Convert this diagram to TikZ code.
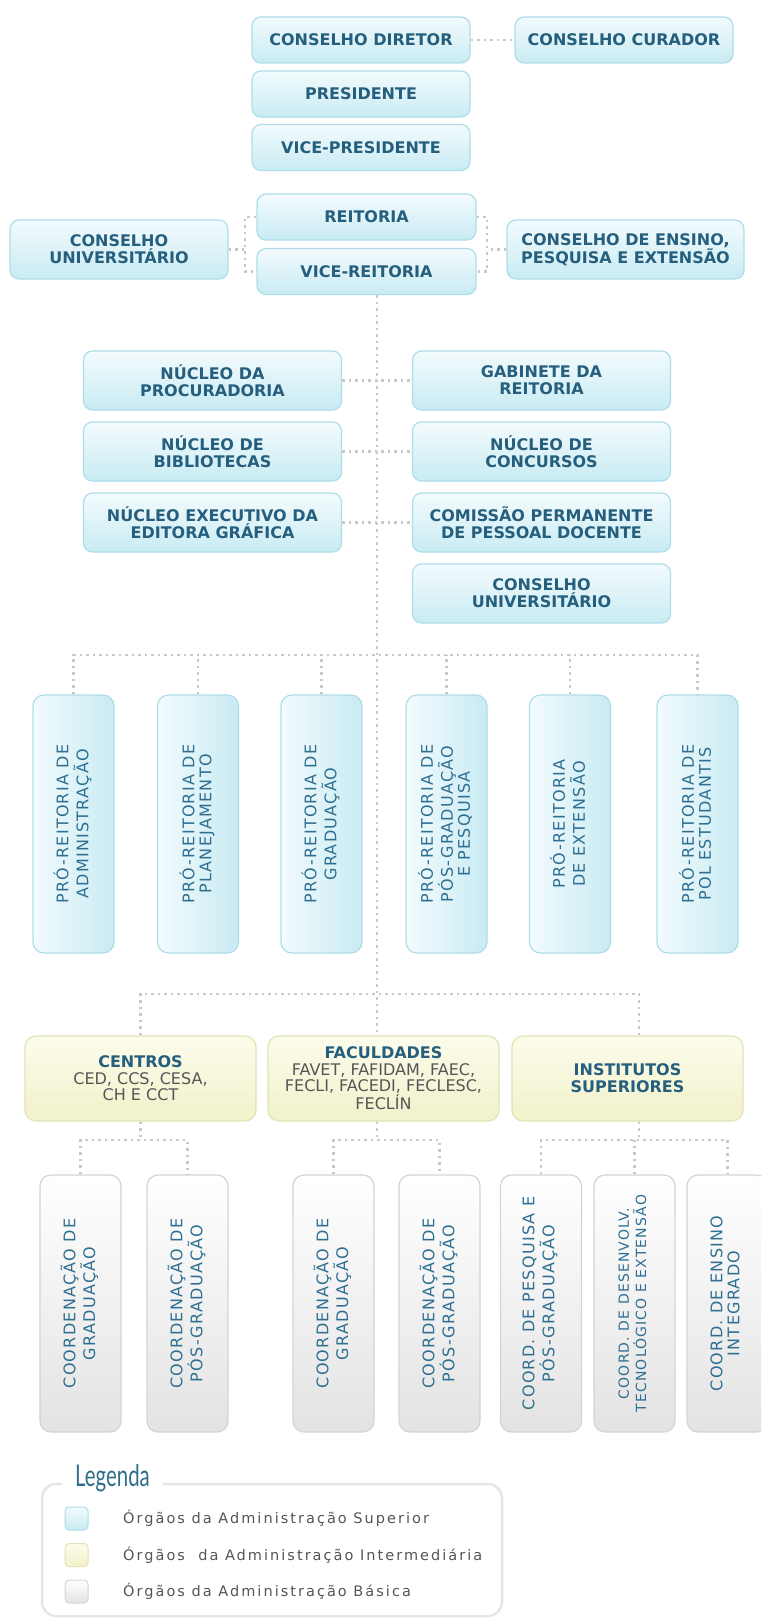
\documentclass[tikz,border=0pt]{standalone}
\usepackage{fontspec}
\setmainfont{DejaVu Sans}
\newfontfamily\vfont{DejaVu Sans}[LetterSpace=8]
\newfontfamily\legtxtfont{DejaVu Sans}[LetterSpace=14]
\newfontfamily\legtitlefont{Lato}

\definecolor{suptop}{HTML}{F3FBFD}
\definecolor{supbot}{HTML}{C8EBF3}
\definecolor{supline}{HTML}{AEDDE9}
\definecolor{midtop}{HTML}{FCFCEC}
\definecolor{midbot}{HTML}{F1F1CB}
\definecolor{midline}{HTML}{E3E3B4}
\definecolor{bastop}{HTML}{FFFFFF}
\definecolor{basbot}{HTML}{E3E3E3}
\definecolor{basline}{HTML}{D4D4D4}
\definecolor{orgtxt}{HTML}{265F7E}
\definecolor{vtxt}{HTML}{2E6F91}
\definecolor{graytxt}{HTML}{555555}
\definecolor{linkgray}{HTML}{C8C8C8}
\definecolor{legline}{HTML}{E6E6E6}
\definecolor{legtitle}{HTML}{2F6E8B}

\newcommand{\vlabel}[1]{\rotatebox{90}{\begin{tabular}{@{}c@{}}#1\end{tabular}}}

\tikzset{
  link/.style={draw=linkgray, line width=2.5pt, dash pattern=on 2.5pt off 4pt},
  hbox/.style={rounded corners=9pt, draw=supline, line width=1.2pt,
    top color=suptop, bottom color=supbot, text=orgtxt, align=center,
    inner sep=0pt, font=\bfseries\fontsize{16}{17}\selectfont},
  sbox/.style={hbox, minimum width=218pt, minimum height=46pt},
  tbox/.style={hbox, minimum height=59pt},
  probox/.style={rounded corners=11pt, draw=supline, line width=1.2pt,
    left color=suptop, right color=supbot, text=vtxt, inner sep=0pt,
    minimum width=81pt, minimum height=258pt, font=\vfont\fontsize{16}{17}\selectfont},
  midbox/.style={rounded corners=11pt, draw=midline, line width=1.2pt,
    top color=midtop, bottom color=midbot, text=graytxt, align=center,
    inner sep=0pt, minimum width=231pt, minimum height=85pt,
    font=\fontsize{16}{16.5}\selectfont},
  basbox/.style={rounded corners=11pt, draw=basline, line width=1.2pt,
    top color=bastop, bottom color=basbot, text=vtxt, inner sep=0pt,
    minimum width=81pt, minimum height=257pt, font=\vfont\fontsize{16}{17}\selectfont},
  swatch/.style={rounded corners=4pt, line width=1pt, minimum size=23pt, inner sep=0pt},
  legtext/.style={anchor=west, text=graytxt, inner sep=0pt,
    font=\legtxtfont\fontsize{14.5}{14.5}\selectfont}
}

\begin{document}
\begin{tikzpicture}[x=1pt, y=-1pt]
\useasboundingbox (0,0) rectangle (761,1619);
\clip (0,0) rectangle (761,1619);

% administracao superior
\node[sbox] (cdir) at (361,40) {CONSELHO DIRETOR};
\node[sbox] (ccur) at (624,40) {CONSELHO CURADOR};
\node[sbox] (pres) at (361,94) {PRESIDENTE};
\node[sbox] (vpres) at (361,147.5) {VICE-PRESIDENTE};
\node[sbox, minimum width=219pt] (reit) at (366.5,217) {REITORIA};
\node[sbox, minimum width=219pt] (vreit) at (366.5,271.5) {VICE-REITORIA};
\node[tbox, minimum width=218pt] (cuni) at (119,249.5) {CONSELHO\\UNIVERSITÁRIO};
\node[tbox, minimum width=237pt] (cepe) at (625.5,249.5) {CONSELHO DE ENSINO,\\PESQUISA E EXTENSÃO};

\coordinate (sp) at (377,0);
\coordinate (jl) at (245,249.5);
\coordinate (jr) at (487,249.5);

\draw[link] (cdir) -- (ccur);
\draw[link] (reit.west) -| (jl) |- (vreit.west);
\draw[link] (cuni) -- (jl);
\draw[link] (reit.east) -| (jr) |- (vreit.east);
\draw[link] (cepe) -- (jr);

% nucleos
\node[tbox, minimum width=258pt] (nproc) at (212.5,380.5) {NÚCLEO DA\\PROCURADORIA};
\node[tbox, minimum width=258pt] (gab) at (541.5,380.5) {GABINETE DA\\REITORIA};
\node[tbox, minimum width=258pt] (nbib) at (212.5,451.5) {NÚCLEO DE\\BIBLIOTECAS};
\node[tbox, minimum width=258pt] (ncon) at (541.5,451.5) {NÚCLEO DE\\CONCURSOS};
\node[tbox, minimum width=258pt] (nedi) at (212.5,522.5) {NÚCLEO EXECUTIVO DA\\EDITORA GRÁFICA};
\node[tbox, minimum width=258pt] (cppd) at (541.5,522.5) {COMISSÃO PERMANENTE\\DE PESSOAL DOCENTE};
\node[tbox, minimum width=258pt] (cuni2) at (541.5,593.5) {CONSELHO\\UNIVERSITÁRIO};

\draw[link] (nproc) -- (gab);
\draw[link] (nbib) -- (ncon);
\draw[link] (nedi) -- (cppd);

% pro-reitorias
\foreach \i/\x/\txt in {1/73.5/{PRÓ-REITORIA DE\\ADMINISTRAÇÃO},
    2/198/{PRÓ-REITORIA DE\\PLANEJAMENTO},
    3/321.5/{PRÓ-REITORIA DE\\GRADUAÇÃO},
    4/446.5/{PRÓ-REITORIA DE\\PÓS-GRADUAÇÃO\\E PESQUISA},
    5/570/{PRÓ-REITORIA\\DE EXTENSÃO},
    6/697.5/{PRÓ-REITORIA DE\\POL ESTUDANTIS}}
  \node[probox] (pr\i) at (\x,824) {\vlabel{\txt}};

\coordinate (pb) at (0,655);
\draw[link] (pr1.north) -- (pr1.north |- pb) -- (pr6.north |- pb) -- (pr6.north);
\foreach \i in {2,...,5}
  \draw[link] (pr\i.north) -- (pr\i.north |- pb);

% administracao intermediaria
\node[midbox] (cen) at (140.5,1078.5) {{\color{orgtxt}\bfseries CENTROS}\\CED, CCS, CESA,\\CH E CCT};
\node[midbox] (fac) at (383.5,1078.5) {{\color{orgtxt}\bfseries FACULDADES}\\FAVET, FAFIDAM, FAEC,\\FECLI, FACEDI, FECLESC,\\FECLÍN};
\node[midbox, text=orgtxt, font=\bfseries\fontsize{16}{17}\selectfont] (ins) at (627.5,1078.5) {INSTITUTOS\\SUPERIORES};

\draw[link] (vreit.south -| sp) -- (sp |- fac.north);
\coordinate (yb) at (0,994);
\coordinate (insx) at ([xshift=11.5pt]ins.north);
\draw[link] (cen.north) -- (cen.north |- yb) -- (insx |- yb) -- (insx);

% administracao basica
\foreach \i/\x/\txt in {1/80.5/{COORDENAÇÃO DE\\GRADUAÇÃO},
    2/187.5/{COORDENAÇÃO DE\\PÓS-GRADUAÇÃO},
    3/333.5/{COORDENAÇÃO DE\\GRADUAÇÃO},
    4/439.5/{COORDENAÇÃO DE\\PÓS-GRADUAÇÃO},
    5/541/{COORD. DE PESQUISA E\\PÓS-GRADUAÇÃO},
    7/727.5/{COORD. DE ENSINO\\INTEGRADO}}
  \node[basbox] (cg\i) at (\x,1303.5) {\vlabel{\txt}};
\node[basbox, font=\vfont\fontsize{14}{15}\selectfont] (cg6) at (634.5,1303.5)
  {\vlabel{COORD. DE DESENVOLV.\\TECNOLÓGICO E EXTENSÃO}};

\coordinate (cb) at (0,1140);
\draw[link] (cen.south) -- (cen.south |- cb);
\draw[link] (cg1.north) -- (cg1.north |- cb) -- (cg2.north |- cb) -- (cg2.north);
\draw[link] (fac.south -| sp) -- (sp |- cb);
\draw[link] (cg3.north) -- (cg3.north |- cb) -- (cg4.north |- cb) -- (cg4.north);
\draw[link] (insx |- ins.south) -- (insx |- cb);
\draw[link] (cg5.north) -- (cg5.north |- cb) -- (cg7.north |- cb) -- (cg7.north);
\draw[link] (cg6.north) -- (cg6.north |- cb);

% legenda
\draw[legline, line width=2.5pt, rounded corners=14pt]
  (62,1484) -- (42,1484) -- (42,1616) -- (502,1616) -- (502,1484) -- (163,1484);
\node[anchor=base west, inner sep=0pt, text=legtitle,
  font=\legtitlefont\fontsize{30}{30}\selectfont] (legt) at (75,1486) {\scalebox{0.68}[1]{Legenda}};
\node[swatch, draw=supline, top color=suptop, bottom color=supbot] (sw1) at (76.5,1518.5) {};
\node[swatch, draw=midline, top color=midtop, bottom color=midbot] (sw2) at (76.5,1555) {};
\node[swatch, draw=basline, top color=bastop, bottom color=basbot] (sw3) at (76.5,1591.5) {};
\node[legtext] (lt1) at (123,1518.5) {Órgãos da Administração Superior};
\node[legtext] (lt2) at (123,1555) {Órgãos~ da Administração Intermediária};
\node[legtext] (lt3) at (123,1591.5) {Órgãos da Administração Básica};
\end{tikzpicture}
\end{document}
